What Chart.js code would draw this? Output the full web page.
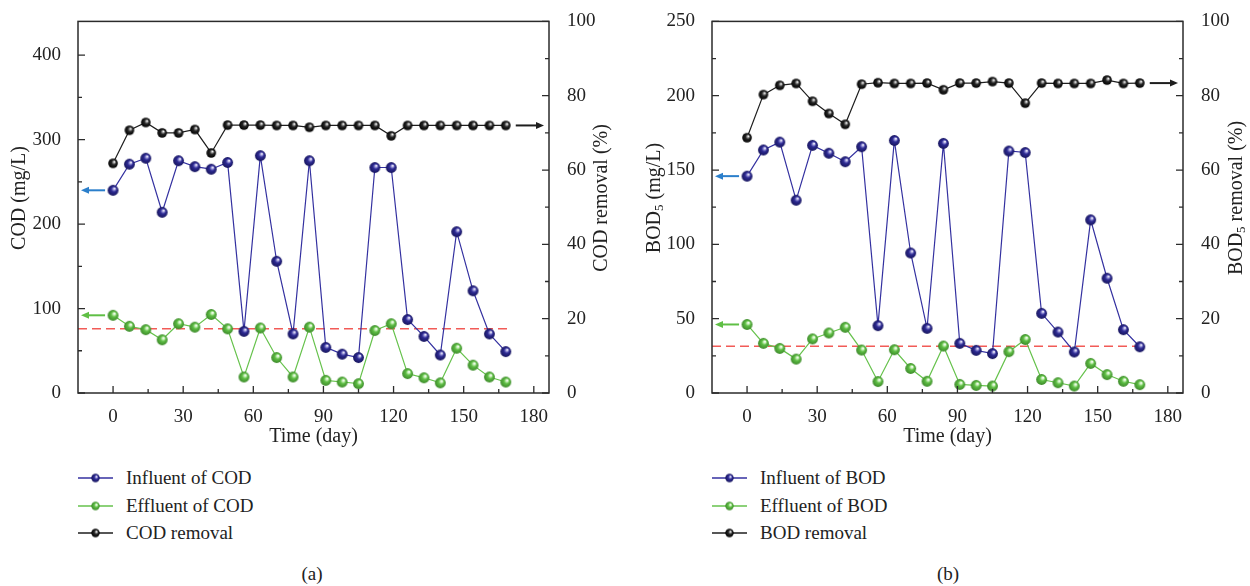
<!DOCTYPE html>
<html>
<head>
<meta charset="utf-8">
<script src="https://cdn.jsdelivr.net/npm/chart.js@4.4.0/dist/chart.umd.min.js"></script>
<style>
html,body{margin:0;padding:0;background:#fff;width:1250px;height:586px;overflow:hidden;
  font-family:"Liberation Serif","DejaVu Serif",serif;color:#222;}
canvas.ch{position:absolute;top:0;}
#c1{left:0;}
#c2{left:625px;}
.lrow{position:absolute;height:20px;line-height:20px;font-size:19px;white-space:nowrap;}
.lrow canvas{position:absolute;top:4px;}
.lrow span{position:absolute;top:0;}
.cap{position:absolute;width:100px;text-align:center;font-size:19px;line-height:20px;}
</style>
</head>
<body>
<canvas id="c1" class="ch" width="625" height="455"></canvas>
<canvas id="c2" class="ch" width="625" height="455"></canvas>
<div class="cap" style="left:262px;top:564px;">(a)</div>
<div class="cap" style="left:898px;top:564px;">(b)</div>
<script>
// ---------------- data ----------------
const days = [0,7,14,21,28,35,42,49,56,63,70,77,84,91,98,105,112,119,126,133,140,147,154,161,168];

const codInfluent = [240,271,278,214,275,268,265,273,73,281,156,70,275,54,46,42,267,267,87,67,45,191,121,70,49];
const codEffluent = [92,79,75,63,82,78,93,76,19,77,42,19,78,15,13,11,74,82,23,18,12,53,33,19,13];
const codRemoval  = [61.8,70.7,72.8,70.0,70.0,70.9,64.6,72.1,72.1,72.1,72,72,71.5,72,72,72,72,69.2,72,72,72,72,72,72,72];
const codLimit = 76;

const bodInfluent = [145.9,163.5,168.8,129.7,166.6,161.3,155.6,165.7,45.3,169.9,94.2,43.5,167.9,33.4,28.7,26.5,162.8,161.8,53.6,41.0,27.6,116.5,77.2,42.6,31.1];
const bodEffluent = [46.1,33.4,30.0,22.8,36.4,40.4,44.2,28.9,7.7,29.1,16.5,7.9,31.6,5.8,5.1,4.7,27.8,36.0,9.1,6.9,4.7,19.9,12.4,7.9,5.6];
const bodRemoval  = [68.7,80.3,82.8,83.3,78.5,75.2,72.3,83.1,83.5,83.3,83.3,83.4,81.6,83.4,83.4,83.8,83.4,78.0,83.4,83.3,83.3,83.3,84.2,83.3,83.4];
const bodLimit = 31.5;

const limitFrom = -15, limitTo = 170.5;

const xTicks = [0,30,60,90,120,150,180];
const codTicks = [0,100,200,300,400];
const bodTicks = [0,50,100,150,200,250];
const removalTicks = [0,20,40,60,80,100];

const codLegend = ['Influent of COD','Effluent of COD','COD removal'];
const bodLegend = ['Influent of BOD','Effluent of BOD','BOD removal'];

// ---------------- styling helpers ----------------
const FONT = "'Liberation Serif', 'DejaVu Serif', serif";
Chart.defaults.font.family = FONT;
Chart.defaults.font.size = 19;
Chart.defaults.color = '#222';
const COL = {
  blue:  {base:'#2e2b94', light:'#9a97da', dark:'#17155e', line:'#3431a0'},
  green: {base:'#5fbf45', light:'#c6efb6', dark:'#3d8a2a', line:'#66c24c'},
  black: {base:'#262626', light:'#9a9a9a', dark:'#000000', line:'#1e1e1e'}
};
function sphere(r, c){
  const s = Math.ceil(r*2+2);
  const cv = document.createElement('canvas'); cv.width = cv.height = s;
  const g = cv.getContext('2d'); const cx = s/2, cy = s/2;
  const gr = g.createRadialGradient(cx+r*0.3, cy-r*0.35, r*0.05, cx, cy, r);
  gr.addColorStop(0,'#ffffff');
  gr.addColorStop(0.2,c.light);
  gr.addColorStop(0.45,c.base);
  gr.addColorStop(1,c.dark);
  g.fillStyle = gr; g.beginPath(); g.arc(cx,cy,r,0,Math.PI*2); g.fill();
  return cv;
}
const pts = (vals) => days.map((d,i)=>({x:d,y:vals[i]}));
const fixTicks = (arr) => (s) => { s.ticks = arr.map(v=>({value:v})); };

function drawRot(ctx, parts, cx, cy){
  ctx.save();
  let w = 0;
  parts.forEach(p=>{ ctx.font = p.size+'px '+FONT; p.w = ctx.measureText(p.t).width; w += p.w; });
  ctx.translate(cx, cy); ctx.rotate(-Math.PI/2);
  ctx.fillStyle = '#222'; ctx.textBaseline = 'middle'; ctx.textAlign = 'left';
  let x = -w/2;
  parts.forEach(p=>{ ctx.font = p.size+'px '+FONT; ctx.fillText(p.t, x, (p.dy||0)); x += p.w; });
  ctx.restore();
}

function decor(cfg){
  return {
    id:'decor',
    afterDraw(chart){
      const ctx = chart.ctx, ca = chart.chartArea;
      ctx.save();
      ctx.strokeStyle = '#2b2b2b'; ctx.lineWidth = 1.5;
      ctx.strokeRect(ca.left, ca.top, ca.right-ca.left, ca.bottom-ca.top);
      ctx.lineWidth = 1.3;
      const tickSet = (scale, draw) => {
        const t = scale.ticks.map(k=>k.value);
        t.forEach(v=>draw(scale.getPixelForValue(v), 7));
        for (let i=0;i<t.length-1;i++) draw(scale.getPixelForValue((t[i]+t[i+1])/2), 4);
      };
      ctx.beginPath();
      tickSet(chart.scales.y, (p,l)=>{ ctx.moveTo(ca.left,p); ctx.lineTo(ca.left+l,p); });
      tickSet(chart.scales.y1,(p,l)=>{ ctx.moveTo(ca.right,p); ctx.lineTo(ca.right-l,p); });
      tickSet(chart.scales.x, (p,l)=>{ ctx.moveTo(p,ca.bottom); ctx.lineTo(p,ca.bottom-l); });
      ctx.stroke();
      cfg.arrows.forEach(a=>{
        const meta = chart.getDatasetMeta(a.ds);
        const idx = a.end==='first' ? 0 : meta.data.length-1;
        const pt = meta.data[idx];
        const y = pt.y;
        let tail, head;
        if (a.end==='first'){ tail = pt.x-8; head = ca.left+3; }
        else { tail = pt.x+10; head = ca.right-5; }
        const dir = Math.sign(head-tail);
        ctx.strokeStyle = a.color; ctx.fillStyle = a.color; ctx.lineWidth = 2;
        ctx.beginPath(); ctx.moveTo(tail,y); ctx.lineTo(head-dir*6,y); ctx.stroke();
        ctx.beginPath(); ctx.moveTo(head,y); ctx.lineTo(head-dir*8,y-3.5); ctx.lineTo(head-dir*8,y+3.5); ctx.closePath(); ctx.fill();
      });
      drawRot(ctx, cfg.leftTitle, cfg.leftX, 198);
      drawRot(ctx, cfg.rightTitle, cfg.rightX, 198);
      ctx.font = '20px '+FONT; ctx.fillStyle = '#222'; ctx.textAlign='center'; ctx.textBaseline='middle';
      ctx.fillText('Time (day)', (ca.left+ca.right)/2, 437);
      ctx.restore();
    }
  };
}

function makeChart(id, inf, eff, rem, limit, leftMax, leftTicks, leftW, rightW, labels, titles){
  const tf = () => ({family:FONT, size:19});
  return new Chart(document.getElementById(id), {
    type:'line',
    data:{ datasets:[
      {label:labels[2], data:pts(rem), yAxisID:'y1', borderColor:COL.black.line, borderWidth:1.2,
        pointStyle:sphere(4.8,COL.black), pointRadius:4.8, order:3},
      {label:labels[1], data:pts(eff), yAxisID:'y', borderColor:COL.green.line, borderWidth:1.2,
        pointStyle:sphere(5.4,COL.green), pointRadius:5.4, order:2},
      {label:labels[0], data:pts(inf), yAxisID:'y', borderColor:COL.blue.line, borderWidth:1.2,
        pointStyle:sphere(5.4,COL.blue), pointRadius:5.4, order:1},
      {label:'limit', data:[{x:limitFrom,y:limit},{x:limitTo,y:limit}], yAxisID:'y',
        borderColor:'#f25b57', borderWidth:1.5, borderDash:[9,5], pointRadius:0, order:4}
    ]},
    options:{
      responsive:false, animation:false, devicePixelRatio:1, events:[],
      layout:{padding:{top:14,left:0,right:0,bottom:0}},
      plugins:{legend:{display:false}, tooltip:{enabled:false}},
      scales:{
        x:{type:'linear', min:-15, max:186.5, afterBuildTicks:fixTicks(xTicks),
          grid:{display:false}, border:{display:false},
          ticks:{font:tf(), color:'#222', padding:5, maxRotation:0, autoSkip:false},
          afterFit:(s)=>{ s.height = 62; }},
        y:{type:'linear', position:'left', min:0, max:leftMax, afterBuildTicks:fixTicks(leftTicks),
          grid:{display:false}, border:{display:false},
          ticks:{font:tf(), color:'#222', padding:9},
          afterFit:(s)=>{ s.width = leftW; }},
        y1:{type:'linear', position:'right', min:0, max:100, afterBuildTicks:fixTicks(removalTicks),
          grid:{display:false}, border:{display:false},
          ticks:{font:tf(), color:'#222', padding:10},
          afterFit:(s)=>{ s.width = rightW; }}
      }
    },
    plugins:[decor(titles)]
  });
}

makeChart('c1', codInfluent, codEffluent, codRemoval, codLimit, 440, codTicks, 78, 76, codLegend, {
  leftTitle:[{t:'COD (mg/L)', size:20}], leftX:20,
  rightTitle:[{t:'COD removal (%)', size:20}], rightX:602,
  arrows:[{ds:2,end:'first',color:'#2b7fcb'},{ds:1,end:'first',color:'#5fbf45'},{ds:0,end:'last',color:'#1e1e1e'}]
});
makeChart('c2', bodInfluent, bodEffluent, bodRemoval, bodLimit, 250, bodTicks, 87, 67, bodLegend, {
  leftTitle:[{t:'BOD', size:20},{t:'5', size:13, dy:5},{t:' (mg/L)', size:20}], leftX:30,
  rightTitle:[{t:'BOD', size:20},{t:'5', size:13, dy:5},{t:' removal (%)', size:20}], rightX:612,
  arrows:[{ds:2,end:'first',color:'#2b7fcb'},{ds:1,end:'first',color:'#5fbf45'},{ds:0,end:'last',color:'#1e1e1e'}]
});

// ---------------- HTML legends ----------------
function legend(iconLeft, textLeft, labels){
  const cols = [COL.blue, COL.green, COL.black];
  const rowsY = [478, 506, 533];
  labels.forEach((lab,i)=>{
    const row = document.createElement('div'); row.className='lrow';
    row.style.left = iconLeft+'px'; row.style.top = (rowsY[i]-10)+'px';
    const cv = document.createElement('canvas'); cv.width = 36; cv.height = 12;
    cv.style.left = '0px';
    const g = cv.getContext('2d');
    g.strokeStyle = cols[i].line; g.lineWidth = 1.3;
    g.beginPath(); g.moveTo(0,6); g.lineTo(35,6); g.stroke();
    const sp = sphere(4.2, cols[i]); g.drawImage(sp, 17.5-sp.width/2, 6-sp.height/2);
    row.appendChild(cv);
    const s = document.createElement('span'); s.textContent = lab; s.style.left = (textLeft-iconLeft)+'px';
    row.appendChild(s);
    document.body.appendChild(row);
  });
}
legend(78, 126, codLegend);
legend(712, 760, bodLegend);
</script>
</body>
</html>
